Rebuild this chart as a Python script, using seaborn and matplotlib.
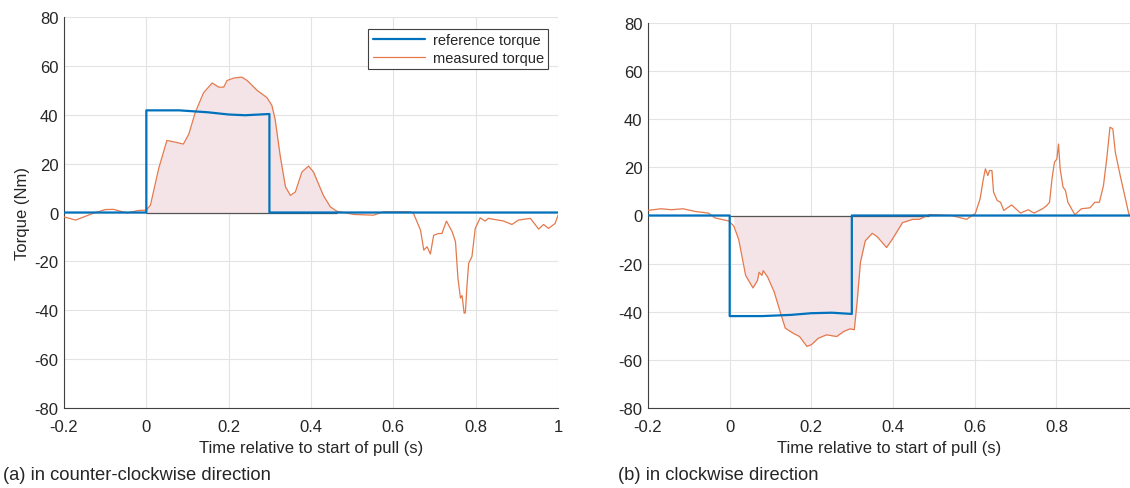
import numpy as np
import matplotlib
matplotlib.use("Agg")
import matplotlib.pyplot as plt
import seaborn as sns
from matplotlib.lines import Line2D

# ---------------- data ----------------
# (a) counter-clockwise pull
t_ref_ccw = [-0.2, 0.0, 0.0, 0.08, 0.15, 0.2, 0.24, 0.299, 0.299, 1.0]
ref_ccw = [0, 0, 41.8, 41.8, 41.0, 40.1, 39.8, 40.3, 0, 0]

t_meas_ccw = [-0.2, -0.172, -0.13, -0.1, -0.08, -0.047, -0.02, 0.0, 0.01, 0.03,
              0.05, 0.07, 0.09, 0.103, 0.119, 0.139, 0.16, 0.176, 0.188, 0.196,
              0.212, 0.232, 0.245, 0.269, 0.293, 0.305, 0.313, 0.325, 0.338, 0.35,
              0.362, 0.378, 0.394, 0.406, 0.43, 0.447, 0.463, 0.504, 0.552, 0.576,
              0.641, 0.649, 0.666, 0.674, 0.682, 0.69, 0.698, 0.71, 0.718, 0.729,
              0.743, 0.751, 0.757, 0.763, 0.767, 0.772, 0.775, 0.779, 0.783, 0.791,
              0.799, 0.811, 0.823, 0.831, 0.868, 0.888, 0.904, 0.933, 0.953, 0.965,
              0.977, 0.993, 1.0]
meas_ccw = [-1.8, -3.1, -0.4, 1.2, 1.3, -0.2, 0.8, 1.0, 3.0, 18.0,
            29.5, 28.8, 28.0, 32.0, 41.0, 49.0, 53.0, 51.3, 51.3, 54.0,
            55.0, 55.4, 54.0, 50.0, 47.0, 43.8, 38.0, 23.4, 10.5, 7.0,
            8.4, 16.6, 19.0, 16.6, 7.0, 2.3, 0.5, -0.8, -1.1, 0.3,
            0.3, -0.4, -7.2, -15.4, -14.0, -17.0, -9.3, -8.6, -8.6, -3.5,
            -7.9, -12.0, -27.0, -35.0, -34.0, -41.2, -41.0, -29.7, -20.8, -18.0,
            -6.5, -2.2, -3.5, -2.4, -3.5, -4.9, -3.1, -2.4, -6.8, -4.9,
            -6.5, -4.5, -1.1]

# (b) clockwise pull
t_ref_cw = [-0.2, 0.0, 0.0, 0.08, 0.15, 0.2, 0.25, 0.299, 0.299, 0.98]
ref_cw = [0, 0, -41.8, -41.8, -41.3, -40.6, -40.4, -40.9, 0, 0]

t_meas_cw = [-0.201, -0.168, -0.143, -0.114, -0.085, -0.052, -0.036, -0.002, 0.01, 0.022,
             0.039, 0.057, 0.068, 0.072, 0.079, 0.082, 0.093, 0.109, 0.126, 0.136,
             0.155, 0.171, 0.189, 0.2, 0.217, 0.237, 0.262, 0.279, 0.295, 0.305,
             0.312, 0.32, 0.332, 0.349, 0.361, 0.384, 0.398, 0.423, 0.448, 0.464,
             0.489, 0.543, 0.58, 0.597, 0.601, 0.613, 0.621, 0.626, 0.632, 0.636,
             0.642, 0.646, 0.655, 0.663, 0.671, 0.69, 0.712, 0.731, 0.745, 0.766,
             0.776, 0.783, 0.789, 0.795, 0.801, 0.805, 0.809, 0.816, 0.822, 0.828,
             0.845, 0.861, 0.882, 0.894, 0.905, 0.915, 0.923, 0.931, 0.938, 0.944,
             0.956, 0.967, 0.977, 0.981]
meas_cw = [2.1, 2.8, 2.4, 2.8, 1.7, 1.0, -1.0, -2.3, -4.4, -9.9,
           -24.9, -30.1, -27.0, -23.6, -24.9, -22.9, -25.6, -31.8, -41.4, -46.8,
           -48.9, -50.3, -54.4, -53.7, -51.0, -49.6, -50.3, -48.2, -47.1, -47.5,
           -35.9, -19.5, -10.5, -7.4, -8.8, -13.3, -9.9, -3.0, -1.6, -1.6,
           0.4, 0.0, -1.6, 0.4, 0.7, 6.9, 15.2, 19.4, 16.6, 18.7,
           18.7, 9.7, 6.2, 5.5, 2.1, 4.4, 1.0, 2.4, 1.0, 2.8,
           4.1, 5.5, 15.2, 22.1, 23.5, 29.7, 19.4, 11.8, 10.4, 5.5,
           0.3, 2.8, 3.2, 5.5, 5.5, 12.4, 23.5, 36.7, 36.0, 26.3,
           16.6, 8.3, 0.7, 0.0]

# shaded pull window (start, end where measured returns to zero)
fill_ccw = (0.0, 0.463)
fill_cw = (0.0, 0.489)

xticks_ccw = [-0.2, 0, 0.2, 0.4, 0.6, 0.8, 1.0]
xlabels_ccw = ["-0.2", "0", "0.2", "0.4", "0.6", "0.8", "1"]
xticks_cw = [-0.2, 0, 0.2, 0.4, 0.6, 0.8]
xlabels_cw = ["-0.2", "0", "0.2", "0.4", "0.6", "0.8"]
yticks = [-80, -60, -40, -20, 0, 20, 40, 60, 80]
ylabels = ["-80", "-60", "-40", "-20", "0", "20", "40", "60", "80"]

# ---------------- style ----------------
BLUE = "#0072BD"
ORANGE = "#E4794C"
FILL = "#F4E4E7"
AXCOL = "#404040"
TXT = "#262626"

sns.set_style("white")
plt.rcParams["font.family"] = ["Liberation Sans", "DejaVu Sans"]
plt.rcParams["axes.unicode_minus"] = False

fig = plt.figure(figsize=(11.3, 4.89), dpi=100)
ax_a = fig.add_axes([64 / 1130, 1 - 409 / 489, 494 / 1130, 391 / 489])
ax_b = fig.add_axes([648 / 1130, 1 - 409 / 489, 482 / 1130, 385 / 489])


def draw_panel(ax, t_ref, ref, t_meas, meas, fill_rng, xlim, xticks, xlabels):
    t_m = np.array(t_meas)
    m = np.array(meas)
    mask = (t_m >= fill_rng[0]) & (t_m <= fill_rng[1])
    ax.fill_between(t_m, m, 0, where=mask, color=FILL, lw=0, zorder=1)
    ax.hlines(0, fill_rng[0], fill_rng[1], color="#555555", lw=0.9, zorder=2)
    sns.lineplot(x=t_meas, y=meas, estimator=None, sort=False, color=ORANGE,
                 lw=0.9, ax=ax, zorder=3)
    sns.lineplot(x=t_ref, y=ref, estimator=None, sort=False, color=BLUE,
                 lw=1.6, ax=ax, zorder=4)
    ax.set_xlim(*xlim)
    ax.set_ylim(-80, 80)
    ax.set_xticks(xticks, xlabels)
    ax.set_yticks(yticks, ylabels)
    ax.grid(True, color="#E3E3E3", lw=0.8, zorder=0)
    ax.set_axisbelow(True)
    for side in ["top", "right"]:
        ax.spines[side].set_visible(False)
    for side in ["left", "bottom"]:
        ax.spines[side].set_color(AXCOL)
        ax.spines[side].set_linewidth(0.8)
    ax.tick_params(direction="in", length=3, width=0.6, color=AXCOL,
                   labelcolor=TXT, labelsize=12)
    ax.tick_params(axis="x", pad=8)
    ax.tick_params(axis="y", pad=4)
    ax.set_xlabel("Time relative to start of pull (s)", fontsize=12, color=TXT,
                  labelpad=4)
    ax.set_ylabel("")


draw_panel(ax_a, t_ref_ccw, ref_ccw, t_meas_ccw, meas_ccw, fill_ccw,
           (-0.2, 1.0), xticks_ccw, xlabels_ccw)
draw_panel(ax_b, t_ref_cw, ref_cw, t_meas_cw, meas_cw, fill_cw,
           (-0.2, 0.98), xticks_cw, xlabels_cw)

ax_a.set_ylabel("Torque (Nm)", fontsize=12, color=TXT, labelpad=3)

handles = [Line2D([], [], color=BLUE, lw=1.6), Line2D([], [], color=ORANGE, lw=0.9)]
leg = ax_a.legend(handles, ["reference torque", "measured torque"],
                  loc="upper right", bbox_to_anchor=(0.98, 0.97), borderaxespad=0,
                  fancybox=False, framealpha=1, edgecolor=AXCOL, fontsize=10.5,
                  handlelength=3.6, handletextpad=0.5, borderpad=0.3,
                  labelspacing=0.25)
leg.get_frame().set_linewidth(0.8)

fig.text(3 / 1130, 1 - 476 / 489, "(a) in counter-clockwise direction",
         fontsize=13.2, color=TXT, va="center", ha="left")
fig.text(618 / 1130, 1 - 476 / 489, "(b) in clockwise direction",
         fontsize=13.2, color=TXT, va="center", ha="left")

fig.savefig("out.png", dpi=100)
